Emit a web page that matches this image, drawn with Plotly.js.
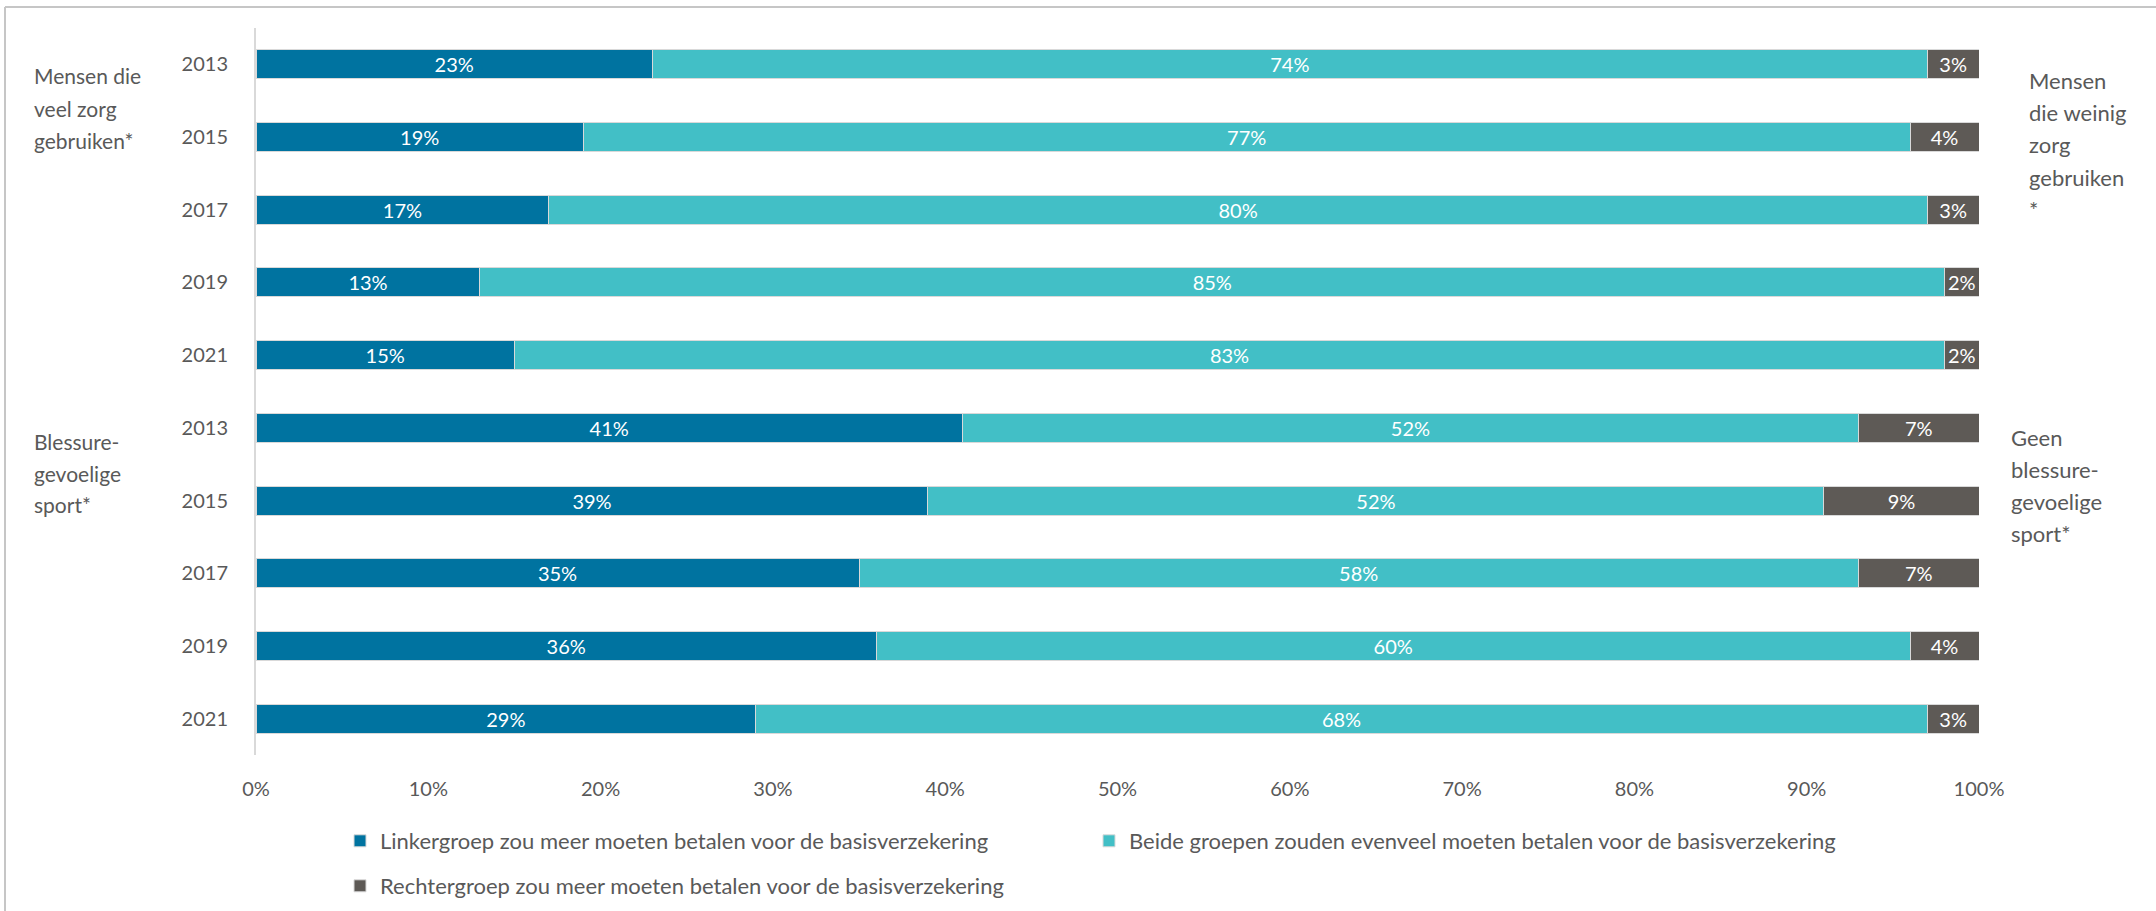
<!DOCTYPE html>
<html>
<head>
<meta charset="utf-8">
<script src="https://cdn.plot.ly/plotly-3.0.1.min.js"></script>
<style>
  html, body { margin: 0; padding: 0; background: #ffffff; }
  #chart { width: 2156px; height: 911px; }
</style>
</head>
<body>
<div id="chart"></div>
<script>
// ---- Data ----
var rowKeys = ["veel-2013", "veel-2015", "veel-2017", "veel-2019", "veel-2021",
               "sport-2013", "sport-2015", "sport-2017", "sport-2019", "sport-2021"];
var yearLabels = ["2013", "2015", "2017", "2019", "2021",
                  "2013", "2015", "2017", "2019", "2021"];
var linkergroep = [23, 19, 17, 13, 15, 41, 39, 35, 36, 29];
var beideGroepen = [74, 77, 80, 85, 83, 52, 52, 58, 60, 68];
var rechtergroep = [3, 4, 3, 2, 2, 7, 9, 7, 4, 3];
var seriesNames = [
  "Linkergroep zou meer moeten betalen voor de basisverzekering",
  "Beide groepen zouden evenveel moeten betalen voor de basisverzekering",
  "Rechtergroep zou meer moeten betalen voor de basisverzekering"
];
var xTickVals = [0, 10, 20, 30, 40, 50, 60, 70, 80, 90, 100];
var leftGroupLabels = [["Mensen die", "veel zorg", "gebruiken*"], ["Blessure-", "gevoelige", "sport*"]];
var rightGroupLabels = [["Mensen", "die weinig", "zorg", "gebruiken", "*"], ["Geen", "blessure-", "gevoelige", "sport*"]];

// ---- Styling ----
var FONT = "Lato, 'Open Sans', sans-serif";
var TXT = "#595959";
var colors = ["#0073A0", "#42BFC6", "#5E5A56"];

// plot area in pixels
var W = 2156, H = 911;
var L = 256, R = 1979, T = 28, B = 755;
function px2x(px) { return (px - L) / (R - L); }
function py2y(py) { return (B - py) / (B - T); }

function makeTrace(vals, i, legendId) {
  return {
    type: "bar",
    orientation: "h",
    name: seriesNames[i],
    y: rowKeys,
    x: vals,
    text: vals.map(function (v) { return v + "%"; }),
    textposition: "inside",
    insidetextanchor: "middle",
    textangle: 0,
    constraintext: "none",
    textfont: { family: FONT, size: 20, color: "#ffffff" },
    marker: { color: colors[i], line: { color: "#d9d9d9", width: 1 } },
    legend: legendId,
    hoverinfo: "skip"
  };
}

var data = [
  makeTrace(linkergroep, 0, "legend"),
  makeTrace(beideGroepen, 1, "legend"),
  makeTrace(rechtergroep, 2, "legend2")
];

var annotations = [];
var leftCenters = [[74, 107, 139.5], [440, 472, 503]];
leftGroupLabels.forEach(function (grp, g) {
  grp.forEach(function (line, k) {
    annotations.push({
      xref: "paper", yref: "paper", x: px2x(32), y: py2y(leftCenters[g][k] + 1),
      xanchor: "left", yanchor: "middle", showarrow: false, text: line,
      font: { family: FONT, size: 21, color: TXT }
    });
  });
});
var rightX = [2027, 2009];
var rightCenters = [[79.5, 111.5, 144, 176, 208.5], [436.5, 468, 500, 532]];
rightGroupLabels.forEach(function (grp, g) {
  grp.forEach(function (line, k) {
    annotations.push({
      xref: "paper", yref: "paper", x: px2x(rightX[g]), y: py2y(rightCenters[g][k] + 1),
      xanchor: "left", yanchor: "middle", showarrow: false, text: line,
      font: { family: FONT, size: 22, color: TXT }
    });
  });
});

var layout = {
  width: W, height: H,
  margin: { l: L, r: W - R, t: T, b: H - B, pad: 0, autoexpand: false },
  paper_bgcolor: "#ffffff",
  plot_bgcolor: "#ffffff",
  barmode: "stack",
  bargap: 0.6,
  font: { family: FONT, color: TXT, size: 20 },
  xaxis: {
    range: [0, 100],
    tickvals: xTickVals,
    ticktext: xTickVals.map(function (v) { return v + "%"; }),
    showgrid: false, zeroline: false, showline: false,
    ticks: "", ticklabelstandoff: 20,
    tickfont: { family: FONT, size: 20, color: TXT },
    fixedrange: true
  },
  yaxis: {
    type: "category",
    autorange: "reversed",
    tickvals: rowKeys,
    ticktext: yearLabels,
    showgrid: false, zeroline: false,
    showline: true, linecolor: "#d9d9d9", linewidth: 2,
    ticks: "", ticklabelstandoff: 22,
    tickfont: { family: FONT, size: 20, color: TXT },
    fixedrange: true
  },
  showlegend: true,
  legend: {
    orientation: "h",
    x: px2x(340), xanchor: "left",
    y: py2y(841), yanchor: "middle",
    entrywidth: 704, entrywidthmode: "pixels",
    font: { family: FONT, size: 22, color: TXT },
    bgcolor: "rgba(0,0,0,0)", borderwidth: 0,
    traceorder: "normal"
  },
  legend2: {
    orientation: "h",
    x: px2x(340), xanchor: "left",
    y: py2y(886), yanchor: "middle",
    font: { family: FONT, size: 22, color: TXT },
    bgcolor: "rgba(0,0,0,0)", borderwidth: 0
  },
  annotations: annotations,
  shapes: [
    { type: "line", xref: "paper", yref: "paper", x0: px2x(5), x1: px2x(2160), y0: py2y(7), y1: py2y(7),
      line: { color: "#c6c6c6", width: 2 } },
    { type: "line", xref: "paper", yref: "paper", x0: px2x(5), x1: px2x(5), y0: py2y(7), y1: py2y(915),
      line: { color: "#c6c6c6", width: 2 } }
  ]
};

Plotly.newPlot("chart", data, layout, { displayModeBar: false, staticPlot: true });
</script>
</body>
</html>
